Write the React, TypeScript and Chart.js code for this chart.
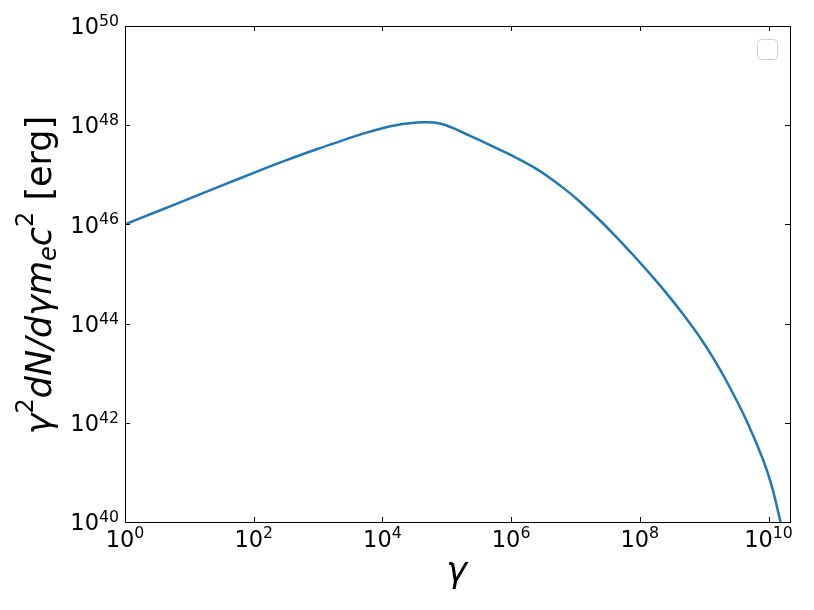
import React, { useEffect, useRef } from 'react';
import { Chart, registerables } from 'chart.js';

Chart.register(...registerables);

// log10(gamma) positions
const gammaExp = [
  0, 0.5, 1.0, 1.5, 2.0, 2.5, 3.0, 3.33, 3.7, 4.0, 4.21, 4.42, 4.63, 4.8, 4.94,
  5.1, 5.25, 5.51, 5.82, 6.03, 6.34, 6.55, 6.86, 7.06, 7.37, 7.58, 7.89, 8.25,
  8.41, 8.62, 8.93, 9.13, 9.34, 9.65, 9.91, 10.05, 10.17, 10.21,
];
// log10(gamma^2 dN/dgamma m_e c^2 [erg])
const energyExp = [
  46.0, 46.26, 46.52, 46.78, 47.04, 47.29, 47.525, 47.67, 47.83, 47.94, 48.0,
  48.04, 48.06, 48.055, 48.02, 47.94, 47.853, 47.697, 47.508, 47.376, 47.159,
  46.987, 46.686, 46.466, 46.094, 45.821, 45.393, 44.867, 44.619, 44.277,
  43.731, 43.331, 42.858, 42.068, 41.275, 40.729, 40.093, 39.833,
];

const xTickExps = [0, 2, 4, 6, 8, 10];
const yTickExps = [40, 42, 44, 46, 48, 50];
const xMinExp = 0;
const xMaxExp = 10.334;
const yMinExp = 40;
const yMaxExp = 50;

const FONT = '"DejaVu Sans", "Liberation Sans", sans-serif';

function drawPow(
  ctx: CanvasRenderingContext2D,
  exp: number,
  x: number,
  baseMain: number,
  baseSup: number,
  align: 'center' | 'right',
) {
  const mainFont = `22.5px ${FONT}`;
  const supFont = `15.75px ${FONT}`;
  ctx.font = mainFont;
  const w1 = ctx.measureText('10').width;
  ctx.font = supFont;
  const sup = String(exp);
  const w2 = ctx.measureText(sup).width;
  const total = w1 + w2;
  const start = align === 'center' ? x - total / 2 : x - total;
  ctx.textAlign = 'left';
  ctx.textBaseline = 'alphabetic';
  ctx.font = mainFont;
  ctx.fillText('10', start, baseMain);
  ctx.font = supFont;
  ctx.fillText(sup, start + w1, baseSup);
}

const mplPlugin = {
  id: 'mplDecor',
  afterDraw(chart: any) {
    const { ctx, chartArea: a, scales } = chart;
    const xs = scales.x;
    const ys = scales.y;
    ctx.save();
    ctx.strokeStyle = '#000';
    ctx.fillStyle = '#000';
    ctx.lineWidth = 1;

    // inward ticks on all four sides
    ctx.beginPath();
    xTickExps.forEach((e) => {
      const px = Math.round(xs.getPixelForValue(10 ** e)) + 0.5;
      ctx.moveTo(px, a.bottom);
      ctx.lineTo(px, a.bottom - 5);
      ctx.moveTo(px, a.top);
      ctx.lineTo(px, a.top + 5);
    });
    yTickExps.forEach((e) => {
      const py = Math.round(ys.getPixelForValue(10 ** e)) + 0.5;
      ctx.moveTo(a.left, py);
      ctx.lineTo(a.left + 5, py);
      ctx.moveTo(a.right, py);
      ctx.lineTo(a.right - 5, py);
    });
    ctx.stroke();

    // frame
    ctx.strokeRect(
      Math.round(a.left) + 0.5,
      Math.round(a.top) + 0.5,
      Math.round(a.right) - Math.round(a.left),
      Math.round(a.bottom) - Math.round(a.top),
    );

    // tick labels
    xTickExps.forEach((e) => {
      const px = xs.getPixelForValue(10 ** e);
      drawPow(ctx, e, px, a.bottom + 24.5, a.bottom + 16, 'center');
    });
    yTickExps.forEach((e) => {
      const py = ys.getPixelForValue(10 ** e);
      drawPow(ctx, e, a.left - 6, py + 8.2, py, 'right');
    });

    // x title
    ctx.font = `italic 35px ${FONT}`;
    ctx.textAlign = 'center';
    ctx.textBaseline = 'alphabetic';
    ctx.fillText('γ', (a.left + a.right) / 2 - 1, a.bottom + 60);

    // y title (mixed mathtext-like runs)
    const segs = [
      { t: 'γ', it: true, s: 35, dy: 0 },
      { t: '2', it: false, s: 24, dy: -18 },
      { t: 'dN/dγm', it: true, s: 35, dy: 0 },
      { t: 'e', it: true, s: 24, dy: 5 },
      { t: 'c', it: true, s: 35, dy: 0 },
      { t: '2', it: false, s: 24, dy: -18 },
      { t: ' [erg]', it: false, s: 35, dy: 0 },
    ];
    const fontOf = (g: any) => `${g.it ? 'italic ' : ''}${g.s}px ${FONT}`;
    let total = 0;
    const widths = segs.map((g) => {
      ctx.font = fontOf(g);
      const w = ctx.measureText(g.t).width;
      total += w;
      return w;
    });
    ctx.save();
    ctx.translate(51, (a.top + a.bottom) / 2 + 1);
    ctx.rotate(-Math.PI / 2);
    ctx.textAlign = 'left';
    let cx = -total / 2;
    segs.forEach((g, i) => {
      ctx.font = fontOf(g);
      ctx.fillText(g.t, cx, g.dy);
      cx += widths[i];
    });
    ctx.restore();

    // empty legend frame (upper right)
    const lx = a.right - 32.5;
    const ly = a.top + 13.5;
    const lw = 20;
    const lh = 20;
    const r = 4;
    ctx.beginPath();
    ctx.moveTo(lx + r, ly);
    ctx.lineTo(lx + lw - r, ly);
    ctx.arcTo(lx + lw, ly, lx + lw, ly + r, r);
    ctx.lineTo(lx + lw, ly + lh - r);
    ctx.arcTo(lx + lw, ly + lh, lx + lw - r, ly + lh, r);
    ctx.lineTo(lx + r, ly + lh);
    ctx.arcTo(lx, ly + lh, lx, ly + lh - r, r);
    ctx.lineTo(lx, ly + r);
    ctx.arcTo(lx, ly, lx + r, ly, r);
    ctx.closePath();
    ctx.fillStyle = 'rgba(255,255,255,0.8)';
    ctx.fill();
    ctx.strokeStyle = '#d0d0d0';
    ctx.stroke();

    ctx.restore();
  },
};

export default function App() {
  const ref = useRef<HTMLCanvasElement>(null);

  useEffect(() => {
    const canvas = ref.current;
    if (!canvas) return;
    const points = gammaExp.map((gx, i) => ({ x: 10 ** gx, y: 10 ** energyExp[i] }));
    const chart = new Chart(canvas, {
      type: 'line',
      data: {
        datasets: [
          {
            label: 'spectrum',
            data: points,
            borderColor: '#1f77b4',
            backgroundColor: '#1f77b4',
            borderWidth: 2.5,
            pointRadius: 0,
            fill: false,
            tension: 0.3,
            clip: 0,
          } as any,
        ],
      },
      options: {
        responsive: false,
        maintainAspectRatio: false,
        animation: false,
        devicePixelRatio: 1,
        layout: { padding: { left: 0, right: 24, top: 26, bottom: 0 } },
        plugins: {
          legend: { display: false },
          tooltip: { enabled: false },
        },
        scales: {
          x: {
            type: 'logarithmic',
            position: 'bottom',
            min: 10 ** xMinExp,
            max: 10 ** xMaxExp,
            bounds: 'data',
            grid: { display: false },
            border: { display: false },
            ticks: { display: false },
            afterBuildTicks: (s: any) => {
              s.ticks = xTickExps.map((e) => ({ value: 10 ** e }));
            },
            afterFit: (s: any) => {
              s.height = 88;
            },
          },
          y: {
            type: 'logarithmic',
            position: 'left',
            min: 10 ** yMinExp,
            max: 10 ** yMaxExp,
            bounds: 'data',
            grid: { display: false },
            border: { display: false },
            ticks: { display: false },
            afterBuildTicks: (s: any) => {
              s.ticks = yTickExps.map((e) => ({ value: 10 ** e }));
            },
            afterFit: (s: any) => {
              s.width = 125;
            },
          },
        },
      } as any,
      plugins: [mplPlugin],
    });
    return () => chart.destroy();
  }, []);

  return (
    <div
      style={{
        position: 'fixed',
        left: 0,
        top: 0,
        width: 814,
        height: 610,
        background: '#fff',
      }}
    >
      <canvas ref={ref} width={814} height={610} style={{ display: 'block' }} />
    </div>
  );
}
